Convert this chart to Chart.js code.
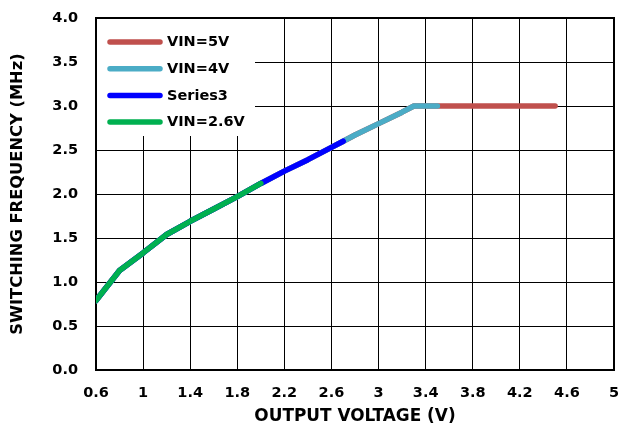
<!DOCTYPE html>
<html>
<head>
<meta charset="utf-8">
<script src="https://cdn.jsdelivr.net/npm/chart.js@4/dist/chart.umd.min.js"></script>
<style>
  html, body { margin: 0; padding: 0; background: #fff; overflow: hidden; }
  #wrap { width: 619px; height: 427px; }
</style>
</head>
<body>
<div id="wrap"><canvas id="c" width="619" height="427"></canvas></div>
<script>
// ---- data ----
const seriesNames = ['VIN=5V', 'VIN=4V', 'Series3', 'VIN=2.6V'];
const seriesColors = ['#C0504D', '#4BACC6', '#0000FF', '#00B050'];

const vin5X   = [0.6, 0.8, 1.0, 1.2, 1.4, 1.6, 1.8, 2.0, 2.2, 2.4, 2.6, 2.7, 2.8, 3.0, 3.2, 3.3, 3.5, 4.0, 4.5];
const vin5Y   = [0.79, 1.13, 1.33, 1.54, 1.69, 1.83, 1.97, 2.12, 2.26, 2.39, 2.53, 2.60, 2.67, 2.80, 2.93, 3.00, 3.00, 3.00, 3.00];
const vin4X   = [0.6, 0.8, 1.0, 1.2, 1.4, 1.6, 1.8, 2.0, 2.2, 2.4, 2.6, 2.7, 2.8, 3.0, 3.2, 3.3, 3.5];
const vin4Y   = [0.79, 1.13, 1.33, 1.54, 1.69, 1.83, 1.97, 2.12, 2.26, 2.39, 2.53, 2.60, 2.67, 2.80, 2.93, 3.00, 3.00];
const series3X = [0.6, 0.8, 1.0, 1.2, 1.4, 1.6, 1.8, 2.0, 2.2, 2.4, 2.6, 2.7];
const series3Y = [0.79, 1.13, 1.33, 1.54, 1.69, 1.83, 1.97, 2.12, 2.26, 2.39, 2.53, 2.60];
const vin26X  = [0.6, 0.8, 1.0, 1.2, 1.4, 1.6, 1.8, 2.0];
const vin26Y  = [0.79, 1.13, 1.33, 1.54, 1.69, 1.83, 1.97, 2.12];

const xTickValues = [0.6, 1.0, 1.4, 1.8, 2.2, 2.6, 3.0, 3.4, 3.8, 4.2, 4.6, 5.0];
const xTickLabels = ['0.6', '1', '1.4', '1.8', '2.2', '2.6', '3', '3.4', '3.8', '4.2', '4.6', '5'];
const yTickValues = [0, 0.5, 1.0, 1.5, 2.0, 2.5, 3.0, 3.5, 4.0];
const yTickLabels = ['0.0', '0.5', '1.0', '1.5', '2.0', '2.5', '3.0', '3.5', '4.0'];

const xTitle = 'OUTPUT VOLTAGE (V)';
const yTitle = 'SWITCHING FREQUENCY (MHz)';

// ---- build ----
const seriesX = [vin5X, vin4X, series3X, vin26X];
const seriesY = [vin5Y, vin4Y, series3Y, vin26Y];
const drawOrder = [3, 2, 1, 0];

const datasets = seriesNames.map((name, i) => ({
  label: name,
  data: seriesX[i].map((x, j) => ({ x: x, y: seriesY[i][j] })),
  borderColor: seriesColors[i],
  backgroundColor: seriesColors[i],
  borderWidth: 5.5,
  borderCapStyle: 'round',
  borderJoinStyle: 'round',
  pointRadius: 0,
  tension: 0,
  fill: false,
  order: drawOrder[i]
}));

const FONT = 'DejaVu Sans';
Chart.defaults.font.family = FONT;
Chart.defaults.font.weight = 'bold';
Chart.defaults.font.size = 14.5;
Chart.defaults.color = '#000';

const legendPlugin = {
  id: 'innerLegend',
  beforeDatasetsDraw(chart) {
    const ctx = chart.ctx;
    const a = chart.chartArea;
    ctx.save();
    // legend background
    ctx.fillStyle = '#fff';
    ctx.fillRect(a.left + 1, a.top + 1, 158, 117);
    // frame
    ctx.strokeStyle = '#000';
    ctx.lineWidth = 2;
    ctx.strokeRect(a.left, a.top, a.right - a.left, a.bottom - a.top);
    // legend items
    const rowH = 26.7;
    ctx.font = 'bold 14.5px "' + FONT + '"';
    ctx.textBaseline = 'middle';
    ctx.textAlign = 'left';
    chart.data.datasets.forEach((ds, i) => {
      const cy = a.top + 24 + i * rowH;
      ctx.strokeStyle = ds.borderColor;
      ctx.lineWidth = 5.5;
      ctx.lineCap = 'round';
      ctx.beginPath();
      ctx.moveTo(a.left + 14, cy);
      ctx.lineTo(a.left + 64, cy);
      ctx.stroke();
      ctx.fillStyle = '#000';
      ctx.fillText(ds.label, a.left + 71, cy + 0.5);
    });
    ctx.restore();
  }
};

new Chart(document.getElementById('c'), {
  type: 'line',
  data: { datasets: datasets },
  options: {
    responsive: false,
    animation: false,
    events: [],
    layout: { padding: { top: 18, right: 5, left: 0, bottom: 0 } },
    plugins: { legend: { display: false }, tooltip: { enabled: false } },
    scales: {
      x: {
        type: 'linear',
        min: 0.6,
        max: 5.0,
        afterBuildTicks: (axis) => { axis.ticks = xTickValues.map(v => ({ value: v })); },
        afterFit: (axis) => { axis.height = 57; axis.paddingLeft = 0; axis.paddingRight = 0; },
        ticks: {
          autoSkip: false,
          maxRotation: 0,
          padding: 14.5,
          callback: (v, i) => xTickLabels[i]
        },
        grid: { color: '#000', lineWidth: 1, drawTicks: false },
        border: { display: false },
        title: { display: true, text: xTitle, font: { size: 16.9, weight: 'bold' }, padding: { top: 0, bottom: 0 } }
      },
      y: {
        type: 'linear',
        min: 0,
        max: 4.0,
        afterBuildTicks: (axis) => { axis.ticks = yTickValues.map(v => ({ value: v })); },
        afterFit: (axis) => { axis.width = 96; axis.paddingTop = 0; axis.paddingBottom = 0; },
        ticks: {
          autoSkip: false,
          padding: 18,
          callback: (v, i) => yTickLabels[i]
        },
        grid: { color: '#000', lineWidth: 1, drawTicks: false },
        border: { display: false },
        title: { display: true, text: yTitle, font: { size: 16.3, weight: 'bold' }, padding: { top: 8, bottom: 0 } }
      }
    }
  },
  plugins: [legendPlugin]
});
</script>
</body>
</html>
